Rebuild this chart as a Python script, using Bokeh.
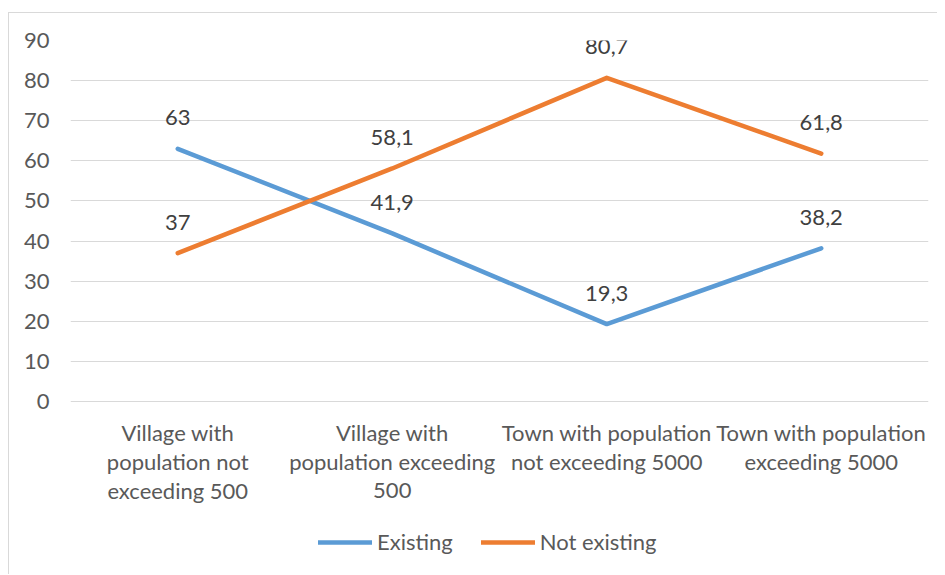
from bokeh.plotting import figure
from bokeh.models import (FactorRange, Range1d, FixedTicker, Legend, LegendItem,
                          ColumnDataSource, LabelSet)
from bokeh.core.properties import value
from bokeh.embed import file_html
from bokeh.resources import INLINE

categories = [
    "Village with\npopulation not\nexceeding 500",
    "Village with\npopulation exceeding\n500",
    "Town with population\nnot exceeding 5000",
    "Town with population\nexceeding 5000",
]
existing = [63, 41.9, 19.3, 38.2]
not_existing = [37, 58.1, 80.7, 61.8]
y_ticks = [0, 10, 20, 30, 40, 50, 60, 70, 80, 90]

FONT = "Lato"
BLUE = "#5B9BD5"
ORANGE = "#ED7D31"

# layout constants (pixels)
W, H = 929, 562
TOP, LEFT, RIGHT = 27, 61, 10
GRID_H = 361          # pixel height of the 0..90 band
Y_MAX = y_ticks[-1]
frame_h = H - TOP
y_start = Y_MAX - frame_h * Y_MAX / GRID_H   # room below 0 for labels/legend
LINE_STEP = 29
FIRST_OFF = -31


def fmt(v):
    return ("%g" % v).replace(".", ",")


src = ColumnDataSource(dict(
    cat=categories,
    existing=existing,
    not_existing=not_existing,
    lab_e=[fmt(v) for v in existing],
    lab_n=[fmt(v) for v in not_existing],
))

# one row per wrapped line of each category label, so each line is centred
lc, lt, lo = [], [], []
for c in categories:
    for i, line in enumerate(c.split("\n")):
        lc.append(c)
        lt.append(line)
        lo.append(FIRST_OFF - LINE_STEP * i)
cat_src = ColumnDataSource(dict(cat=lc, text=lt, off=lo, zero=[0] * len(lc)))

p = figure(width=W, height=H, x_range=FactorRange(*categories, range_padding=0),
           y_range=Range1d(y_start, Y_MAX), output_backend="svg", toolbar_location=None,
           min_border_left=LEFT, min_border_right=RIGHT, min_border_top=TOP,
           min_border_bottom=0)
p.styles = {"border-left": "1px solid #d9d9d9", "border-top": "1px solid #d9d9d9",
            "margin-top": "12px", "margin-left": "8px"}
p.outline_line_color = None
p.background_fill_color = "white"
p.border_fill_color = "white"

r1 = p.line(x="cat", y="existing", source=src, line_width=4.5, line_color=BLUE,
            line_cap="round", line_join="round")
r2 = p.line(x="cat", y="not_existing", source=src, line_width=4.5, line_color=ORANGE,
            line_cap="round", line_join="round")

for col, lbl in (("existing", "lab_e"), ("not_existing", "lab_n")):
    ls = LabelSet(x="cat", y=col, text=lbl, source=src, y_offset=31,
                  text_align="center", text_baseline="middle",
                  text_font=value(FONT), text_font_size=value("22px"),
                  text_color="#404040")
    p.add_layout(ls)

# category labels under the zero line
cat_labels = LabelSet(x="cat", y="zero", text="text", source=cat_src, y_offset="off",
                      text_align="center", text_baseline="middle",
                      text_font=value(FONT), text_font_size=value("22px"),
                      text_color="#595959")
p.add_layout(cat_labels)

p.xgrid.grid_line_color = None
p.ygrid.grid_line_color = "#d9d9d9"
p.ygrid.grid_line_width = 1
p.ygrid.ticker = FixedTicker(ticks=y_ticks)

p.xaxis.visible = False

p.yaxis.ticker = FixedTicker(ticks=y_ticks)
p.yaxis.axis_line_color = None
p.yaxis.major_tick_line_color = None
p.yaxis.minor_tick_line_color = None
p.yaxis.major_label_standoff = 15
p.yaxis.major_label_text_font = FONT
p.yaxis.major_label_text_font_size = "22px"
p.yaxis.major_label_text_color = "#595959"

legend = Legend(items=[LegendItem(label="Existing", renderers=[r1]),
                       LegendItem(label="Not existing", renderers=[r2])],
                orientation="horizontal", location=(248, 20),
                border_line_color=None, background_fill_alpha=0,
                padding=0, margin=0, spacing=28, glyph_width=54, glyph_height=24,
                label_standoff=5, label_text_font=FONT, label_text_font_size="22px",
                label_text_color="#595959", label_text_baseline="middle")
p.add_layout(legend, "center")

open("out.html", "w").write(file_html(p, INLINE))
